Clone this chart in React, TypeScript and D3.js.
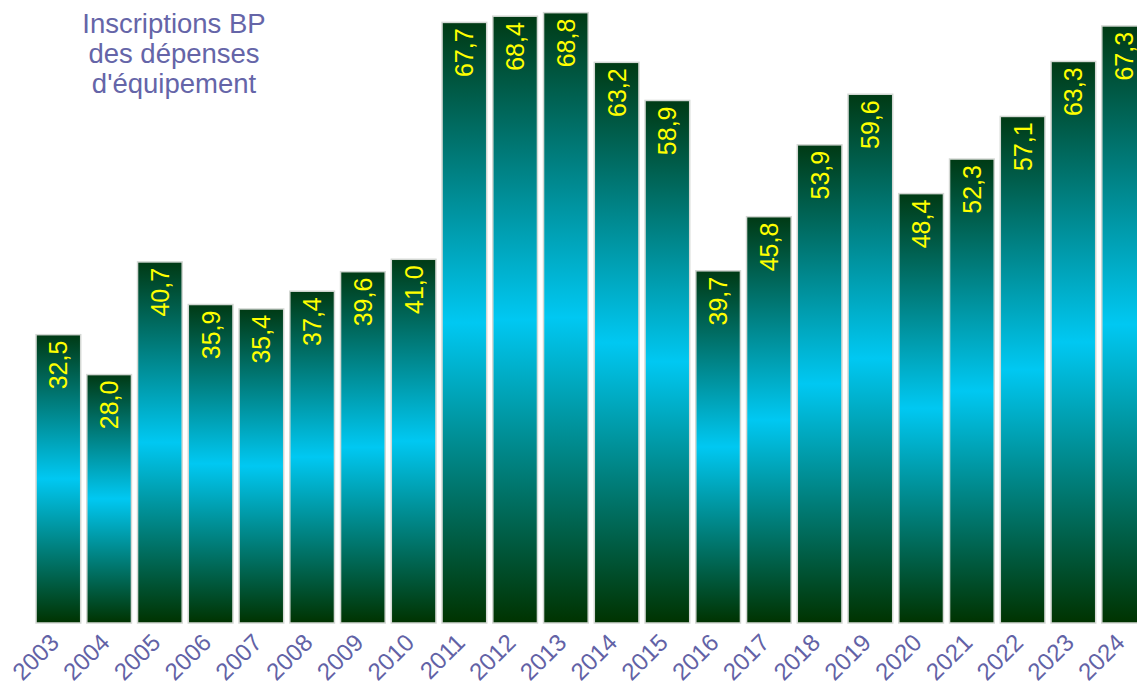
import React from "react";
import * as d3 from "d3";

const years = ["2003","2004","2005","2006","2007","2008","2009","2010","2011","2012","2013","2014","2015","2016","2017","2018","2019","2020","2021","2022","2023","2024"];
const values = [32.5,28.0,40.7,35.9,35.4,37.4,39.6,41.0,67.7,68.4,68.8,63.2,58.9,39.7,45.8,53.9,59.6,48.4,52.3,57.1,63.3,67.3];
const titleLines = ["Inscriptions BP", "des dépenses", "d'équipement"];

export default function App() {
  const W = 1137, H = 689;
  const x = d3.scaleBand().domain(years).range([33, 33 + 50.75 * 22]).paddingInner(0.12).paddingOuter(0.06);
  const y = d3.scaleLinear().domain([0, 70]).range([623, 2]);
  const fmt = (v: number) => v.toFixed(1).replace(".", ",");
  const font = "Liberation Sans, Arial, sans-serif";
  return (
    <svg width={W} height={H} style={{ position: "absolute", left: 0, top: 0, background: "#fff" }}>
      <defs>
        <linearGradient id="barGrad" x1="0" y1="0" x2="0" y2="1">
          <stop offset="0" stopColor="#003a14" />
          <stop offset="0.5" stopColor="#00c8f2" />
          <stop offset="1" stopColor="#003300" />
        </linearGradient>
      </defs>
      {titleLines.map((t, i) => (
        <text key={i} x={174} y={33 + i * 30} textAnchor="middle" fontFamily={font} fontSize={27.5} fill="#6565a8">{t}</text>
      ))}
      {years.map((yr, i) => {
        const bx = x(yr)!;
        const bw = x.bandwidth();
        const top = y(values[i]);
        const cx = bx + bw / 2;
        return (
          <g key={yr}>
            <rect x={bx} y={top} width={bw} height={y(0) - top} fill="url(#barGrad)" stroke="#d4d8d4" strokeWidth={1.5} />
            <text transform={`translate(${cx + 9},${top + 6}) rotate(-90)`} textAnchor="end" fontFamily={font} fontSize={25} fill="#ffff00">{fmt(values[i])}</text>
            <text transform={`translate(${cx + 2},${644}) rotate(-45)`} textAnchor="end" fontFamily={font} fontSize={24} fill="#6262a6">{yr}</text>
          </g>
        );
      })}
    </svg>
  );
}
